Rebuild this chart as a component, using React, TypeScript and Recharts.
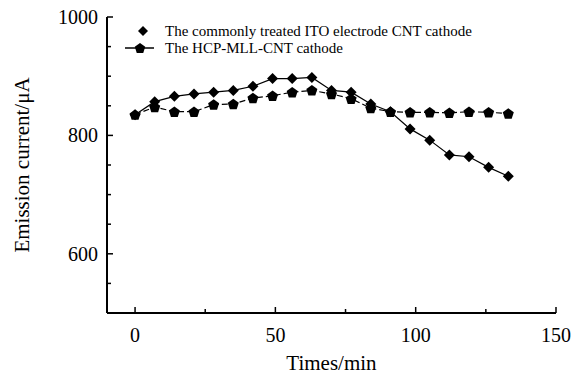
import { LineChart, Line, XAxis, YAxis, Legend } from 'recharts';

const times = [0, 7, 14, 21, 28, 35, 42, 49, 56, 63, 70, 77, 84, 91, 98, 105, 112, 119, 126, 133];
const itoCathode = [835, 857, 866, 870, 873, 876, 883, 896, 896, 898, 876, 873, 853, 840, 811, 792, 767, 764, 746, 731];
const hcpCathode = [835, 848, 840, 840, 852, 853, 863, 867, 873, 876, 870, 862, 846, 840, 839, 839, 838, 840, 839, 837];

const xTicks = [0, 25, 50, 75, 100, 125, 150];
const xLabelled = [0, 50, 100, 150];
const yTicks = [550, 600, 650, 700, 750, 800, 850, 900, 950, 1000];
const yLabelled = [600, 800, 1000];

const itoName = 'The commonly treated ITO electrode CNT cathode';
const hcpName = 'The HCP-MLL-CNT cathode';

const data = times.map((t, i) => ({ time: t, ito: itoCathode[i], hcp: hcpCathode[i] }));

const FONT = "'Liberation Serif', 'Times New Roman', serif";

function diamondPoints(cx: number, cy: number, r: number) {
    return `${cx},${cy - r} ${cx + r},${cy} ${cx},${cy + r} ${cx - r},${cy}`;
}

function pentagonPoints(cx: number, cy: number, r: number) {
    const pts: string[] = [];
    for (let k = 0; k < 5; k++) {
        const a = -Math.PI / 2 + (k * 2 * Math.PI) / 5;
        pts.push(`${cx + r * Math.cos(a)},${cy + r * Math.sin(a)}`);
    }
    return pts.join(' ');
}

const DiamondDot = (props: any) => {
    const { cx, cy, index } = props;
    if (cx == null || cy == null) return <g key={`d${index}`} />;
    return <polygon key={`d${index}`} points={diamondPoints(cx, cy, 5.5)} fill="#000" />;
};

const PentagonDot = (props: any) => {
    const { cx, cy, index } = props;
    if (cx == null || cy == null) return <g key={`p${index}`} />;
    return <polygon key={`p${index}`} points={pentagonPoints(cx, cy + 0.5, 5.8)} fill="#000" />;
};

const YTick = (props: any) => {
    const { x, y, payload } = props;
    const major = yLabelled.includes(payload.value);
    return (
        <g>
            <line x1={x} x2={x + (major ? 6 : 4)} y1={y} y2={y} stroke="#000" strokeWidth={1.5} />
            {major && (
                <text x={x - 9} y={y} textAnchor="end" dominantBaseline="central" fontSize={20} fontFamily={FONT} fill="#000">
                    {payload.value}
                </text>
            )}
        </g>
    );
};

const XTick = (props: any) => {
    const { x, y, payload } = props;
    const major = xLabelled.includes(payload.value);
    return (
        <g>
            <line x1={x} x2={x} y1={y} y2={y - (major ? 6 : 4)} stroke="#000" strokeWidth={1.5} />
            {major && (
                <text x={x} y={y + 22} textAnchor="middle" dominantBaseline="central" fontSize={20} fontFamily={FONT} fill="#000">
                    {payload.value}
                </text>
            )}
        </g>
    );
};

const YTitle = (props: any) => {
    const vb = props.viewBox;
    const cx = vb.x + 22;
    const cy = vb.y + vb.height / 2;
    return (
        <text x={cx} y={cy} transform={`rotate(-90, ${cx}, ${cy})`} textAnchor="middle" dominantBaseline="central" fontSize={21} fontFamily={FONT} fill="#000">
            Emission current/μA
        </text>
    );
};

const LegendBox = () => (
    <svg width={400} height={36} style={{ display: 'block' }}>
        <polygon points={diamondPoints(25, 8, 5)} fill="#000" />
        <text x={47} y={8} dominantBaseline="central" fontSize={15} fontFamily={FONT} fill="#000">{itoName}</text>
        <line x1={7} x2={36} y1={25} y2={25} stroke="#000" strokeWidth={1.5} />
        <polygon points={pentagonPoints(22, 25.5, 5.5)} fill="#000" />
        <text x={47} y={25} dominantBaseline="central" fontSize={15} fontFamily={FONT} fill="#000">{hcpName}</text>
    </svg>
);

export default function App() {
    return (
        <div style={{ position: 'absolute', left: 0, top: 0, width: 582, height: 376, background: '#fff' }}>
            <LineChart width={582} height={376} data={data} margin={{ top: 17, right: 26, bottom: 0, left: 0 }}>
                <XAxis
                    dataKey="time"
                    type="number"
                    domain={[-10, 150]}
                    ticks={xTicks}
                    allowDataOverflow
                    height={63}
                    axisLine={{ stroke: '#000', strokeWidth: 2 }}
                    tickLine={false}
                    tickSize={0}
                    tickMargin={0}
                    tick={<XTick />}
                    interval={0}
                    label={{ value: 'Times/min', position: 'insideBottom', offset: 6, fontSize: 21, fontFamily: FONT, fill: '#000' }}
                />
                <YAxis
                    type="number"
                    domain={[500, 1000]}
                    ticks={yTicks}
                    allowDataOverflow
                    width={107}
                    axisLine={{ stroke: '#000', strokeWidth: 2 }}
                    tickLine={false}
                    tickSize={0}
                    tickMargin={0}
                    tick={<YTick />}
                    interval={0}
                    label={(p: any) => <YTitle {...p} />}
                />
                <Legend
                    layout="horizontal"
                    verticalAlign="middle"
                    align="center"
                    wrapperStyle={{ top: 23, left: 118, width: 400 }}
                    content={() => <LegendBox />}
                />
                <Line
                    name={hcpName}
                    dataKey="hcp"
                    stroke="#000"
                    strokeWidth={1.2}
                    strokeDasharray="6 3"
                    dot={PentagonDot}
                    activeDot={false}
                    isAnimationActive={false}
                />
                <Line
                    name={itoName}
                    dataKey="ito"
                    stroke="#000"
                    strokeWidth={1.2}
                    dot={DiamondDot}
                    activeDot={false}
                    isAnimationActive={false}
                />
            </LineChart>
        </div>
    );
}
